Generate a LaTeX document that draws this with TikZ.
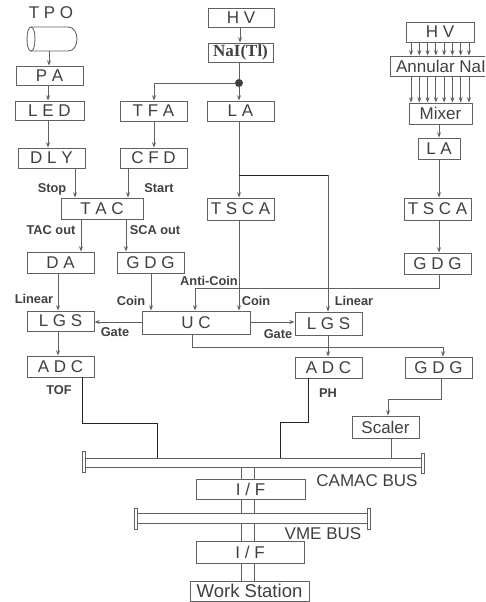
\documentclass[tikz,border=0pt]{standalone}
\usepackage{fontspec}
\setmainfont{Liberation Sans}
\newfontfamily\timesbold[BoldFont={Liberation Serif Bold}]{Liberation Serif}
\usetikzlibrary{arrows.meta}
\definecolor{ink}{gray}{0.25}
\definecolor{linec}{gray}{0.38}
\tikzset{
  boxs/.style={draw=linec,line width=0.65pt,fill=white,inner sep=0pt,text=ink,font=\fontsize{12.75}{14}\selectfont},
  conn/.style={draw=linec,line width=0.65pt},
  darkconn/.style={draw=black!85,line width=0.5pt},
  arr/.style={-{Stealth[length=4pt,width=3pt]}},
  lab/.style={font=\fontsize{9.6}{11}\selectfont\bfseries,text=ink,inner sep=0pt},
  buslab/.style={font=\fontsize{12.75}{14}\selectfont,text=ink,inner sep=0pt}
}
\newcommand{\bx}[6]{\node[boxs,minimum width={(#4-#2)*0.75pt},minimum height={(#5-#3)*0.75pt}] (#1) at ({(#2+#4)/2},{(#3+#5)/2}) {#6};}
\begin{document}
\begin{tikzpicture}[x=0.75pt,y=-0.75pt]
\useasboundingbox (0,0) rectangle (485,602);
\clip (0,0) rectangle (485,602);
% TPO
\node[buslab] (tpo) at (51,13) {T P O};
\draw[conn] (31,27) -- (68,27) .. controls (74,27) and (77,33) .. (77,39) .. controls (77,45) and (74,51) .. (68,51) -- (31,51);
\draw[conn] (31,27) .. controls (25.7,27) and (25.7,51) .. (31,51) .. controls (36.3,51) and (36.3,27) .. (31,27);
\coordinate (cyl) at (49,51);
% boxes
\bx{pa}{16}{66}{83}{85}{P A}
\bx{led}{15}{101}{84}{120}{L E D}
\bx{dly}{18}{148}{85}{168}{D L Y}
\bx{tfa}{120}{101}{187}{121}{T F A}
\bx{cfd}{120}{148}{187}{168}{C F D}
\bx{hv}{208}{8}{274}{27}{H V}
\bx{nai}{208}{43}{273}{62}{\timesbold\bfseries NaI(Tl)}
\bx{la}{207}{101}{274}{121}{L A}
\bx{hvr}{406}{22}{474}{42}{H V}
\bx{ann}{390}{56}{492}{76}{Annular NaI}
\bx{mix}{409}{103}{472}{124}{Mixer}
\bx{lar}{418}{138}{460}{159}{L A}
\bx{tscar}{404}{198}{471}{220}{T S C A}
\bx{gdgr}{404}{253}{471}{274}{G D G}
\bx{tac}{61}{198}{143}{219}{T A C}
\bx{da}{27}{252}{94}{273}{D A}
\bx{gdg}{117}{252}{184}{273}{G D G}
\bx{tsca}{207}{198}{274}{220}{T S C A}
\bx{lgsl}{27}{311}{94}{331}{L G S}
\bx{uc}{142}{311}{250}{334}{U C}
\bx{lgsr}{295}{312}{362}{335}{L G S}
\bx{adcl}{27}{356}{94}{377}{A D C}
\bx{adcr}{295}{357}{362}{378}{A D C}
\bx{gdgb}{405}{357}{472}{378}{G D G}
\bx{scal}{352}{416}{419}{438}{Scaler}
\bx{camac}{85}{458}{421}{467}{}
\bx{capa}{82}{451}{85}{472}{}
\bx{capb}{421}{453}{424}{473}{}
\bx{ifa}{196}{479}{305}{499}{I / F}
\bx{vme}{137}{513}{367}{523}{}
\bx{capc}{134}{508}{137}{529}{}
\bx{capd}{367}{508}{370}{529}{}
\bx{ifb}{196}{541}{304}{563}{I / F}
\node[boxs,font=\fontsize{13.9}{15}\selectfont,minimum width={119*0.75pt},minimum height={20*0.75pt}] (ws) at (249.5,591) {Work Station};
\node[circle,fill=ink,minimum size=6pt,inner sep=0pt] (dot) at (239,83) {};
% left chain
\draw[conn,arr] (49,0 |- cyl) -- (49,0 |- pa.north);
\draw[conn,arr] (48,0 |- pa.south) -- (48,0 |- led.north);
\draw[conn,arr] (48,0 |- led.south) -- (48,0 |- dly.north);
\draw[conn,arr] (75,0 |- dly.south) -- (75,0 |- tac.north);
\draw[conn,arr] (128,0 |- cfd.south) -- (128,0 |- tac.north);
\draw[conn,arr] (154,0 |- tfa.south) -- (154,0 |- cfd.north);
% centre chain
\draw[conn,arr] (240,0 |- hv.south) -- (240,0 |- nai.north);
\draw[conn] (239,0 |- nai.south) -- (dot);
\draw[conn,arr] (dot) -- (239,0 |- la.north);
\draw[conn,arr] (dot) -| (154,0 |- tfa.north);
\draw[conn,arr] (239,0 |- la.south) -- (239,0 |- tsca.north);
\draw[darkconn] (239,175) -- (328,175);
\draw[conn,arr] (328,175) -- (328,0 |- lgsr.north);
% TAC outputs
\draw[conn,arr] (81,0 |- tac.south) -- (81,0 |- da.north);
\draw[conn,arr] (126,0 |- tac.south) -- (126,0 |- gdg.north);
\draw[conn,arr] (58,0 |- da.south) -- (58,0 |- lgsl.north);
\draw[conn,arr] (151,0 |- gdg.south) -- (151,0 |- uc.north);
\draw[conn,arr] (239,0 |- tsca.south) -- (239,0 |- uc.north);
% right chain
\foreach \xx in {411,419.3,427.6,435.9,444.1,452.4,460.7,469}{
  \draw[conn,arr] (\xx,0 |- hvr.south) -- (\xx,0 |- ann.north);
  \draw[conn,arr] (\xx,0 |- ann.south) -- (\xx,0 |- mix.north);
}
\draw[conn,arr] (439,0 |- mix.south) -- (439,0 |- lar.north);
\draw[conn,arr] (439,0 |- lar.south) -- (439,0 |- tscar.north);
\draw[conn,arr] (439,0 |- tscar.south) -- (439,0 |- gdgr.north);
% anti-coin
\draw[conn,arr] (439,0 |- gdgr.south) -- (439,288) -- (195,288) -- (195,0 |- uc.north);
% gates
\draw[conn,arr] (uc.west |- 0,322) -- (lgsl.east |- 0,322);
\draw[conn,arr] (uc.east |- 0,322) -- (lgsr.west |- 0,322);
\draw[conn,arr] (58,0 |- lgsl.south) -- (58,0 |- adcl.north);
\draw[conn,arr] (328,0 |- lgsr.south) -- (328,0 |- adcr.north);
\draw[conn,arr] (192,0 |- uc.south) -- (192,347) -- (443,347) -- (443,0 |- gdgb.north);
% to the bus
\draw[darkconn] (82,0 |- adcl.south) -- (82,423) -- (157,423) -- (157,0 |- camac.north);
\draw[darkconn] (308,0 |- adcr.south) -- (308,422) -- (280,422) -- (280,0 |- camac.north);
\draw[conn,arr] (441,0 |- gdgb.south) -- (441,399) -- (388,399) -- (388,0 |- scal.north);
\draw[conn] (391,0 |- scal.south) -- (391,0 |- camac.north);
% double lines
\foreach \xx in {241,254}{
  \draw[conn] (\xx,0 |- camac.south) -- (\xx,0 |- ifa.north);
  \draw[conn] (\xx,0 |- ifa.south) -- (\xx,0 |- vme.north);
  \draw[conn] (\xx,0 |- vme.south) -- (\xx,0 |- ifb.north);
  \draw[conn] (\xx,0 |- ifb.south) -- (\xx,0 |- ws.north);
}
% labels
\node[lab] (l1) at (52,189) {Stop};
\node[lab] (l2) at (159,188) {Start};
\node[lab] (l3) at (51,230) {TAC out};
\node[lab] (l4) at (155,230) {SCA out};
\node[lab] (l5) at (34,299) {Linear};
\node[lab] (l6) at (131,301) {Coin};
\node[lab] (l7) at (209,281) {Anti-Coin};
\node[lab] (l8) at (256,301) {Coin};
\node[lab] (l9) at (115,332) {Gate};
\node[lab] (l10) at (278,334) {Gate};
\node[lab] (l11) at (354,301) {Linear};
\node[lab] (l12) at (59,390) {TOF};
\node[lab] (l13) at (328,393) {PH};
\node[buslab] (l14) at (367,481) {CAMAC BUS};
\node[buslab] (l15) at (323,534) {VME BUS};
\end{tikzpicture}
\end{document}
